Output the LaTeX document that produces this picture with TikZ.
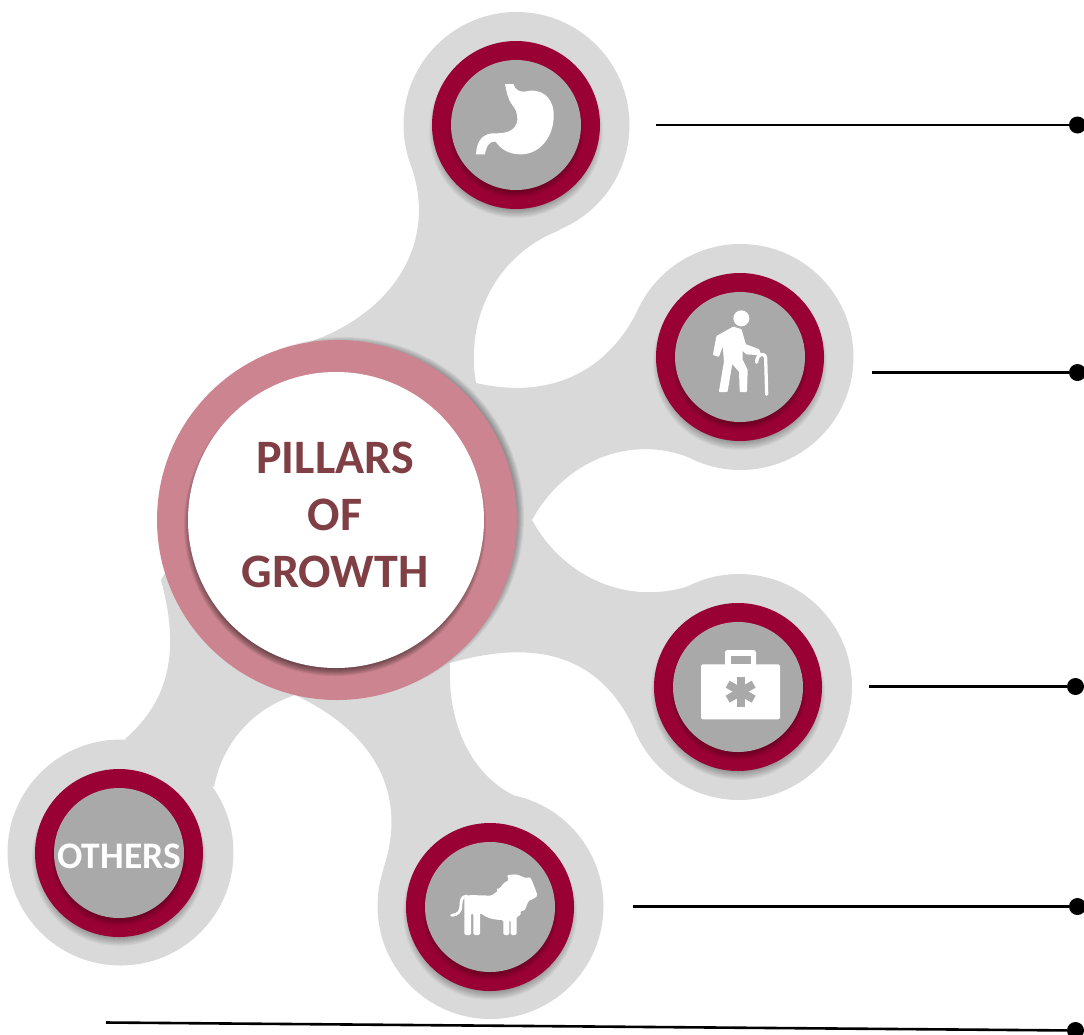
\documentclass[tikz,border=0pt]{standalone}
\usepackage{fontspec}
\setmainfont{Carlito}
\usepackage{tikz}
\definecolor{bubblegray}{HTML}{D9D9D9}
\definecolor{iconback}{HTML}{A9A9A9}
\definecolor{crimson}{HTML}{990033}
\definecolor{hubpink}{HTML}{CC8590}
\definecolor{hubtext}{HTML}{7F3F45}
\newcommand{\softshadow}[4]{%
  \foreach \s in {0,...,9}
    \fill[black, opacity=#4] (#1,#2) circle [radius=#3+\s-6];
}
\begin{document}
\begin{tikzpicture}[x=1pt, y=-1pt,
    disc/.style={circle, inner sep=0pt, minimum size=#1},
    leader/.style={line width=2.6pt, black},
    enddot/.style={circle, fill=black, inner sep=0pt, minimum size=17pt}]
    \useasboundingbox (0,0) rectangle (1084,1034);
    \foreach \n/\i/\j in {stomach/516.5/125, walker/740.5/357, medkit/739/687, lion/490.5/906, others/120.5/852.5}
      \node[disc=226pt, fill=bubblegray] (\n bg) at (\i,\j) {};
    \fill[bubblegray] (300,345) .. controls (385,320) and (441,249) .. (410.5,164)
      -- (560,230) .. controls (495,255) and (465,320) .. (476,383)
      .. controls (550,400) and (608,372) .. (638.5,308.5)
      -- (688,457) .. controls (630,435) and (565,460) .. (532,520)
      .. controls (565,580) and (630,605) .. (689,586)
      -- (636,733) .. controls (600,650) and (530,640) .. (450,663)
      .. controls (447,725) and (472,775) .. (515,796)
      -- (383,870) .. controls (410,790) and (370,730) .. (295,695)
      .. controls (250,710) and (222,745) .. (214,787)
      -- (125,739) .. controls (170,700) and (180,650) .. (161,580) -- cycle;
    \softshadow{344}{517}{177}{0.05}
    \node[disc=360pt, fill=hubpink] (hub) at (337,520) {};
    \softshadow{335}{525}{148}{0.07}
    \node[disc=296pt, fill=white] (hubin) at (336,520) {};
    \node[align=center, text=hubtext, font=\fontsize{48}{57}\selectfont\bfseries] (title) at (335,515) {PILLARS\\OF\\GROWTH};
    \foreach \n/\i/\j in {stomach/516/125, walker/740/357, medkit/738/687, lion/490/907, others/119/853} {
      \softshadow{\i}{\j+6}{84}{0.035}
      \node[disc=168pt, fill=crimson] (\n ring) at (\i,\j) {};
      \softshadow{\i}{\j+5}{65}{0.04}
      \node[disc=130pt, fill=iconback] (\n) at (\i,\j) {};
    }
    \node[text=white, font=\fontsize{37.5}{37.5}\selectfont\bfseries] (otherslabel) at (119,856) {OTHERS};
    \begin{scope}[shift={(430,40)}, scale=1/3]
      \fill[white] (225,132) -- (250,132) .. controls (255,150) and (270,160) .. (300,152)
        .. controls (350,148) and (374,190) .. (371,230)
        .. controls (370,295) and (325,345) .. (270,343)
        .. controls (235,343) and (210,325) .. (197,305)
        .. controls (180,300) and (168,320) .. (165,343) -- (138,343)
        .. controls (140,300) and (160,278) .. (197,280)
        .. controls (235,280) and (258,270) .. (262,240)
        .. controls (262,215) and (255,205) .. (247,195)
        .. controls (232,175) and (230,155) .. (225,132) -- cycle;
    \end{scope}
    \begin{scope}[shift={(700,305)}, scale=1/3, line cap=round, line join=round]
      \fill[white] (124,40) circle [radius=24];
      \filldraw[white, line width=2pt] (52,95) -- (100,68) -- (122,75) -- (135,120) -- (175,135) -- (180,148)
        -- (140,145) -- (125,130) -- (125,165) -- (140,195) -- (138,258) -- (122,258) -- (120,200) -- (95,170)
        -- (80,258) -- (60,258) -- (75,170) -- (70,110) -- (55,152) -- (42,148) -- cycle;
      \draw[white, line width=3.3pt] (200,268) -- (197,160) .. controls (195,140) and (170,145) .. (170,172);
    \end{scope}
    \begin{scope}[shift={(650,600)}, scale=1/3]
      \fill[white, rounded corners=2.5pt] (225,200) -- (225,150) -- (318,150) -- (318,200) -- cycle;
      \fill[iconback] (242,168) rectangle (302,193);
      \fill[white, rounded corners=2pt] (153,193) rectangle (390,358);
      \foreach \a in {90,30,-30}
        \draw[iconback, line width=8pt] (272,275) ++(\a:-45) -- ++(\a:90);
    \end{scope}
    \begin{scope}[shift={(445,865)}, scale=1/3]
      \draw[white, line width=2.8pt, line cap=round] (65,93) .. controls (50,95) and (48,105) .. (48,120) .. controls (48,140) and (38,150) .. (20,151);
      \fill[white, rounded corners=1.5pt] (58,95) -- (58,210) -- (78,210) -- (78,145) -- (85,145) -- (85,210) -- (105,210) -- (105,143)
        .. controls (125,160) and (150,165) .. (175,165) -- (175,210) -- (193,210) -- (193,165) -- (197,165) -- (197,210) -- (215,210)
        -- (215,155) -- (228,150) -- (226,137) -- (238,138) -- (246,120) -- (250,108) -- (268,100) -- (278,92)
        -- (270,70) -- (262,50) -- (255,35) -- (245,40) -- (215,28) -- (185,30) -- (192,45) -- (175,55) -- (165,70)
        -- (152,72) -- (160,78) -- (148,85) -- (140,92) -- (75,90) -- cycle;
    \end{scope}
    \foreach \n/\i/\j/\u/\v in {a/656/125/1077.5/125, b/872/372.5/1077.5/372.5, c/869/686.5/1075.5/686.5, d/633/906.5/1077.5/906.5, e/106/1022.5/1075.5/1030.5} {
      \coordinate (start\n) at (\i,\j);
      \node[enddot] (dot\n) at (\u,\v) {};
      \draw[leader] (start\n) -- (dot\n);
    }
\end{tikzpicture}
\end{document}
